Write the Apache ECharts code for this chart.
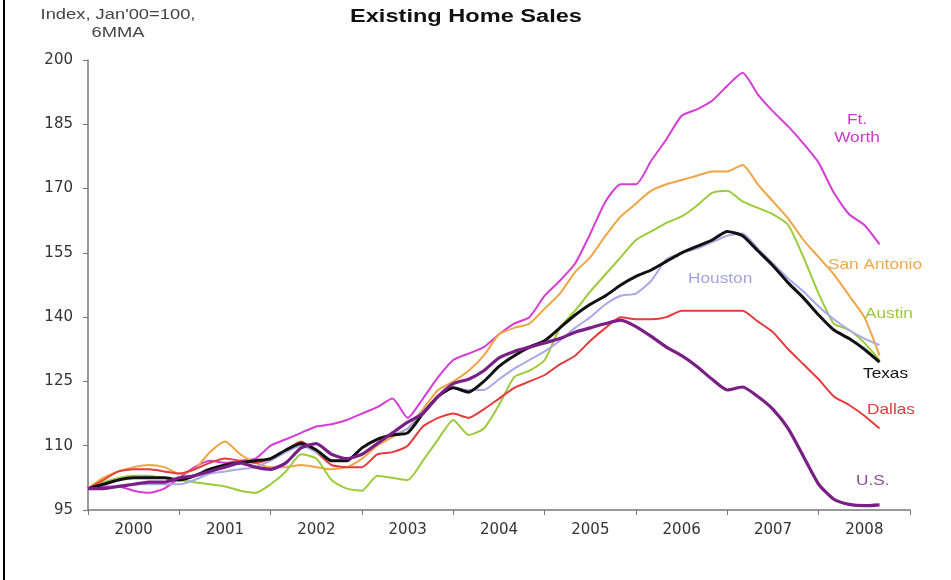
<!DOCTYPE html>
<html>
<head>
<meta charset="utf-8">
<script src="https://cdn.jsdelivr.net/npm/echarts@6/dist/echarts.min.js"></script>
<style>
	html, body { margin: 0; padding: 0; background: #fff; }
	#chart { width: 951px; height: 580px; }
</style>
</head>
<body>
<div id="chart"></div>
<script>
// months since Jan 2000, every other month
const months = [0, 2, 4, 6, 8, 10, 12, 14, 16, 18, 20, 22, 24, 26, 28, 30, 32, 34, 36, 38, 40, 42, 44, 46, 48, 50,
	52, 54, 56, 58, 60, 62, 64, 66, 68, 70, 72, 74, 76, 78, 80, 82, 84, 86, 88, 90, 92, 94, 96, 98, 100, 102, 104]
const years = ['2000', '2001', '2002', '2003', '2004', '2005', '2006', '2007', '2008']
const yTicks = [95, 110, 125, 140, 155, 170, 185, 200]

const ftWorth = [100, 100.5, 100.5, 99.5, 99, 100, 102.5, 105, 106.5, 106, 106.5, 107, 110, 111.5, 113, 114.5, 115, 116,
	117.5, 119, 121, 116.5, 121, 126, 130, 131.5, 133, 136, 138.5, 140, 145, 148.5, 152.5, 159.5, 167, 171, 171, 176.5,
	181.5, 187, 188.5, 190.5, 194, 197, 192, 188, 184.5, 180.5, 176, 169, 164, 161.5, 157]
const sanAntonio = [100, 102.5, 104, 105, 105.5, 105, 103.5, 104.5, 108.5, 111, 108, 106, 105, 105, 105.5, 105, 104.5,
	105, 107, 110, 112, 114, 118.5, 123, 125, 127.5, 131, 136, 137.5, 138.5, 142, 145.5, 150.5, 154, 159, 163.5, 166.5,
	169.5, 171, 172, 173, 174, 174, 175.5, 171, 167, 163, 158, 154, 150, 145, 140, 131]
const austin = [100, 101.5, 102.5, 103, 103, 102.5, 102, 101.5, 101, 100.5, 99.5, 99, 101, 104, 108, 107, 102, 100,
	99.5, 103, 102.5, 102, 106.5, 111.5, 116, 112.5, 114, 119.5, 126, 127.5, 130, 137.5, 141.5, 146, 150, 154, 158, 160,
	162, 163.5, 166, 169, 169.5, 167, 165.5, 164, 161.5, 154, 145.5, 138.5, 137, 134, 130]
const houston = [100, 100, 100.5, 101, 101, 101, 101, 102, 103.5, 104, 104.5, 105, 106.5, 108.5, 110, 108.5, 106.5,
	106.5, 109.5, 111.5, 112.5, 114, 118, 121.5, 123.5, 123, 123, 125.5, 128, 130, 132, 134.5, 137.5, 140, 143, 145,
	145.5, 148.5, 153.5, 155, 156, 157.5, 159, 159.5, 156, 152.5, 149, 146, 142.5, 139.5, 137, 135, 133.5]
const texas = [100, 101, 102, 102.5, 102.5, 102.5, 102, 103, 104.5, 105.5, 106, 106.5, 107, 109, 110.5, 109, 106.5,
	106.5, 109.5, 111.5, 112.5, 113, 117.5, 121.5, 123.5, 122.5, 125, 128.5, 131, 133, 134.5, 137.5, 140.5, 143, 145,
	147.5, 149.5, 151, 153, 155, 156.5, 158, 160, 159, 155.5, 152, 148, 144.5, 140.5, 137, 135, 132.5, 129.5]
const dallas = [100, 102, 104, 104.5, 104.5, 104, 103.5, 104.5, 106, 107, 106.5, 106, 107, 109, 111, 108.5, 105.5, 105,
	105, 108, 108.5, 110, 114.5, 116.5, 117.5, 116.5, 118.5, 121, 123.5, 125, 126.5, 129, 131, 134.5, 137.5, 140, 139.5,
	139.5, 140, 141.5, 141.5, 141.5, 141.5, 141.5, 139, 136.5, 132.5, 129, 125.5, 121.5, 119.5, 117, 114]
const us = [100, 100, 100.5, 101, 101.5, 101.5, 102.5, 103, 104, 105, 106, 105, 104.5, 106, 109.5, 110.5, 108, 107,
	108, 110.5, 113, 115.5, 117.5, 121.5, 124.5, 125.5, 127.5, 130.5, 132, 133, 134, 135, 136.5, 137.5, 138.5, 139.3,
	137.8, 135.5, 133, 131, 128.5, 125.5, 123, 123.7, 121.5, 118.5, 114, 107.5, 101, 97.5, 96.3, 96, 96.2]

const lines = [
	{ name: 'Ft. Worth', data: ftWorth, color: '#d63cd6', width: 2 },
	{ name: 'San Antonio', data: sanAntonio, color: '#f0a443', width: 2 },
	{ name: 'Austin', data: austin, color: '#9ccb3a', width: 2 },
	{ name: 'Dallas', data: dallas, color: '#e43c3c', width: 2 },
	{ name: 'Houston', data: houston, color: '#a9a9e6', width: 2 },
	{ name: 'Texas', data: texas, color: '#111111', width: 3 },
	{ name: 'U.S.', data: us, color: '#7a1f86', width: 3.2 },
]

const fam = '"Liberation Sans", Arial, sans-serif'
// the source picture is stretched sideways, so texts get a scaleX
const txt = (x, y, text, fill, opt) => ({
	type: 'text',
	x: x,
	y: y,
	scaleX: (opt && opt.sx) || 1.15,
	z: 10,
	style: {
		text: text,
		fill: fill,
		font: (opt && opt.font) || '15px ' + fam,
		align: (opt && opt.align) || 'left',
		textAlign: (opt && opt.align) || 'left',
		verticalAlign: 'middle',
		textVerticalAlign: 'middle',
	},
})

const chart = echarts.init(document.getElementById('chart'))
chart.setOption({
	animation: false,
	backgroundColor: '#fff',
	grid: { left: 88, right: 41, top: 60, bottom: 70 },
	xAxis: [
		{
			type: 'value',
			min: 0,
			max: 108,
			interval: 12,
			axisLine: { show: true, lineStyle: { color: '#777', width: 1.5 } },
			axisTick: { show: true, length: 5, lineStyle: { color: '#777' } },
			axisLabel: { show: false },
			splitLine: { show: false },
		},
		{
			type: 'category',
			data: years,
			position: 'bottom',
			axisLine: { show: false },
			axisTick: { show: false },
			axisLabel: { fontFamily: '"DejaVu Sans"', fontSize: 15, color: '#333', margin: 13 },
		},
	],
	yAxis: {
		type: 'value',
		min: yTicks[0],
		max: yTicks[yTicks.length - 1],
		interval: 15,
		axisLine: { show: true, lineStyle: { color: '#777', width: 1.5 } },
		axisTick: { show: true, length: 5, lineStyle: { color: '#777' } },
		axisLabel: { fontFamily: '"DejaVu Sans"', fontSize: 15, color: '#333', margin: 15 },
		splitLine: { show: false },
	},
	series: lines.map((s) => ({
		name: s.name,
		type: 'line',
		xAxisIndex: 0,
		data: months.map((m, i) => [m, s.data[i]]),
		showSymbol: false,
		smooth: 0.2,
		lineStyle: { color: s.color, width: s.width },
		itemStyle: { color: s.color },
		z: s.width > 2.5 ? 3 : 2,
	})),
	graphic: [
		{ type: 'rect', left: 3, top: 0, shape: { width: 2, height: 580 }, style: { fill: '#000' } },
		txt(466, 17, 'Existing Home Sales', '#111', { font: 'bold 18px ' + fam, sx: 1.31, align: 'center' }),
		txt(118, 15, "Index, Jan'00=100,", '#444', { font: '14px ' + fam, sx: 1.31, align: 'center' }),
		txt(118, 33, '6MMA', '#444', { font: '14px ' + fam, sx: 1.31, align: 'center' }),
		txt(857, 120, 'Ft.', '#c83cc8', { align: 'center' }),
		txt(857, 138, 'Worth', '#c83cc8', { align: 'center' }),
		txt(828, 265, 'San Antonio', '#eda84e'),
		txt(688, 279, 'Houston', '#a3a3de'),
		txt(865, 314, 'Austin', '#9cc73c'),
		txt(863, 374, 'Texas', '#111'),
		txt(867, 410, 'Dallas', '#e03c3c'),
		txt(856, 481, 'U.S.', '#8a4f94'),
	],
})
</script>
</body>
</html>
